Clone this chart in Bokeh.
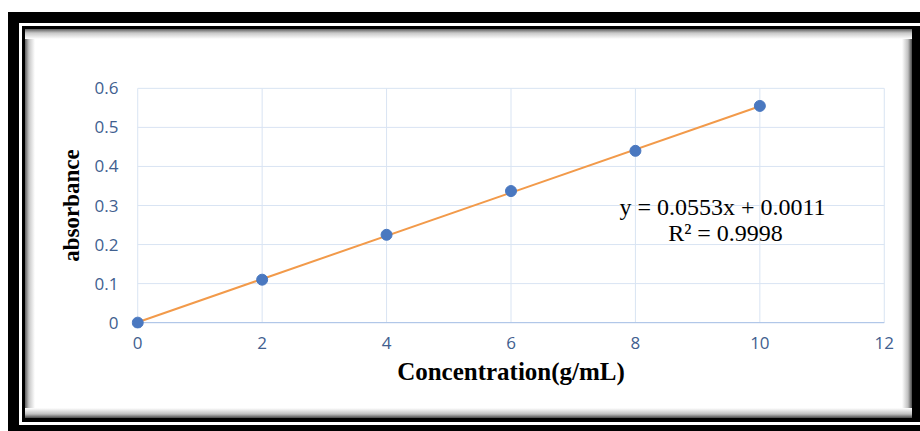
from bokeh.embed import file_html
from bokeh.models import ColumnDataSource, FixedTicker, Label
from bokeh.plotting import figure
from bokeh.resources import INLINE

# Calibration data: concentration (g/mL) vs. absorbance
concentration = [0, 2, 4, 6, 8, 10]
absorbance = [0.0, 0.110, 0.225, 0.337, 0.440, 0.555]

# Linear trend line coefficients
slope = 0.0553
intercept = 0.0011
r_squared = 0.9998

x_ticks = [0, 2, 4, 6, 8, 10, 12]
y_ticks = [0, 0.1, 0.2, 0.3, 0.4, 0.5, 0.6]
x_lo, x_hi = 0, 12
y_lo, y_hi = 0, 0.6

W, H = 920, 431

# The frame is a little larger than the plotting area so that the
# markers sitting on the axes are not cut in half.
p = figure(
    width=W, height=H,
    x_range=(-0.1, 12.1), y_range=(-0.015, 0.615),
    output_backend="svg", toolbar_location=None,
    min_border_left=131, min_border_right=30,
    min_border_top=82, min_border_bottom=103,
)
p.outline_line_color = None
p.background_fill_color = "white"
p.border_fill_alpha = 0.0

# Picture frame drawn as CSS background layers behind the canvas:
# soft inner shadow, white panel, thin black line, white gap, thick black band.
layers = [
    "linear-gradient(to bottom, #5e5e5e, #c8c8c8 40%, #ffffff) 25px 29px / 887px 10px no-repeat",
    "linear-gradient(to top, #4a4a4a, #c0c0c0 40%, #ffffff) 25px 408px / 887px 10px no-repeat",
    "linear-gradient(to right, #5e5e5e, #c8c8c8 40%, #ffffff) 25px 29px / 10px 389px no-repeat",
    "linear-gradient(to left, #4a4a4a, #c0c0c0 40%, #ffffff) 902px 29px / 10px 389px no-repeat",
    "linear-gradient(#ffffff, #ffffff) 25px 29px / 887px 389px no-repeat",
    "linear-gradient(#000000, #000000) 22px 26px / 898px 396px no-repeat",
    "linear-gradient(#ffffff, #ffffff) 19px 23px / 901px 402px no-repeat",
    "linear-gradient(#000000, #000000) 8px 12px / 912px 419px no-repeat",
]
p.styles = {"background": ", ".join(layers) + ", #ffffff"}

grid_color = "#D9E4F3"
zero_line_color = "#A9C2E6"
label_color = "#41608F"

# Gridlines limited to the plotting area
p.xgrid.visible = False
p.ygrid.visible = False
p.segment(x0=x_ticks, y0=[y_lo] * len(x_ticks), x1=x_ticks,
          y1=[y_hi] * len(x_ticks), line_color=grid_color, line_width=1)
p.segment(x0=[x_lo] * len(y_ticks), y0=y_ticks, x1=[x_hi] * len(y_ticks),
          y1=y_ticks, line_color=grid_color, line_width=1)
p.segment(x0=[x_lo], y0=[y_lo], x1=[x_hi], y1=[y_lo],
          line_color=zero_line_color, line_width=1)

p.xaxis.ticker = FixedTicker(ticks=x_ticks)
p.yaxis.ticker = FixedTicker(ticks=y_ticks)
p.yaxis.major_label_overrides = {0: "0"}
for ax in (p.xaxis, p.yaxis):
    ax.axis_line_color = None
    ax.major_tick_line_color = None
    ax.minor_tick_line_color = None
    ax.major_tick_out = 0
    ax.major_tick_in = 0
    ax.major_label_text_font = "Open Sans"
    ax.major_label_text_font_size = "17px"
    ax.major_label_text_color = label_color
    ax.axis_label_text_font = "Liberation Serif"
    ax.axis_label_text_font_style = "bold"
    ax.axis_label_text_color = "black"
p.xaxis.major_label_standoff = 8
p.yaxis.major_label_standoff = 13
p.xaxis.axis_label = "Concentration(g/mL)"
p.yaxis.axis_label = "absorbance"
p.xaxis.axis_label_text_font_size = "25px"
p.yaxis.axis_label_text_font_size = "23px"
p.xaxis.axis_label_standoff = 6
p.yaxis.axis_label_standoff = 8

# Trend line from the fitted equation
fit_x = [concentration[0], concentration[-1]]
fit_y = [slope * x + intercept for x in fit_x]
p.line(fit_x, fit_y, line_color="#F29A4A", line_width=2)

src = ColumnDataSource(dict(x=concentration, y=absorbance))
p.scatter("x", "y", source=src, size=11, fill_color="#4A78C0",
          line_color="#4A78C0")

# Equation of the fit
for y_px, s in [(206, f"y = {slope}x  + {intercept}"),
                (232, f"R\u00b2 = {r_squared}")]:
    p.add_layout(Label(
        x=725, y=y_px, x_units="canvas", y_units="canvas", text=s,
        text_font="Liberation Serif", text_font_size="24px",
        text_color="black", text_align="center", text_baseline="middle",
    ))

open("out.html", "w").write(file_html(p, INLINE))
